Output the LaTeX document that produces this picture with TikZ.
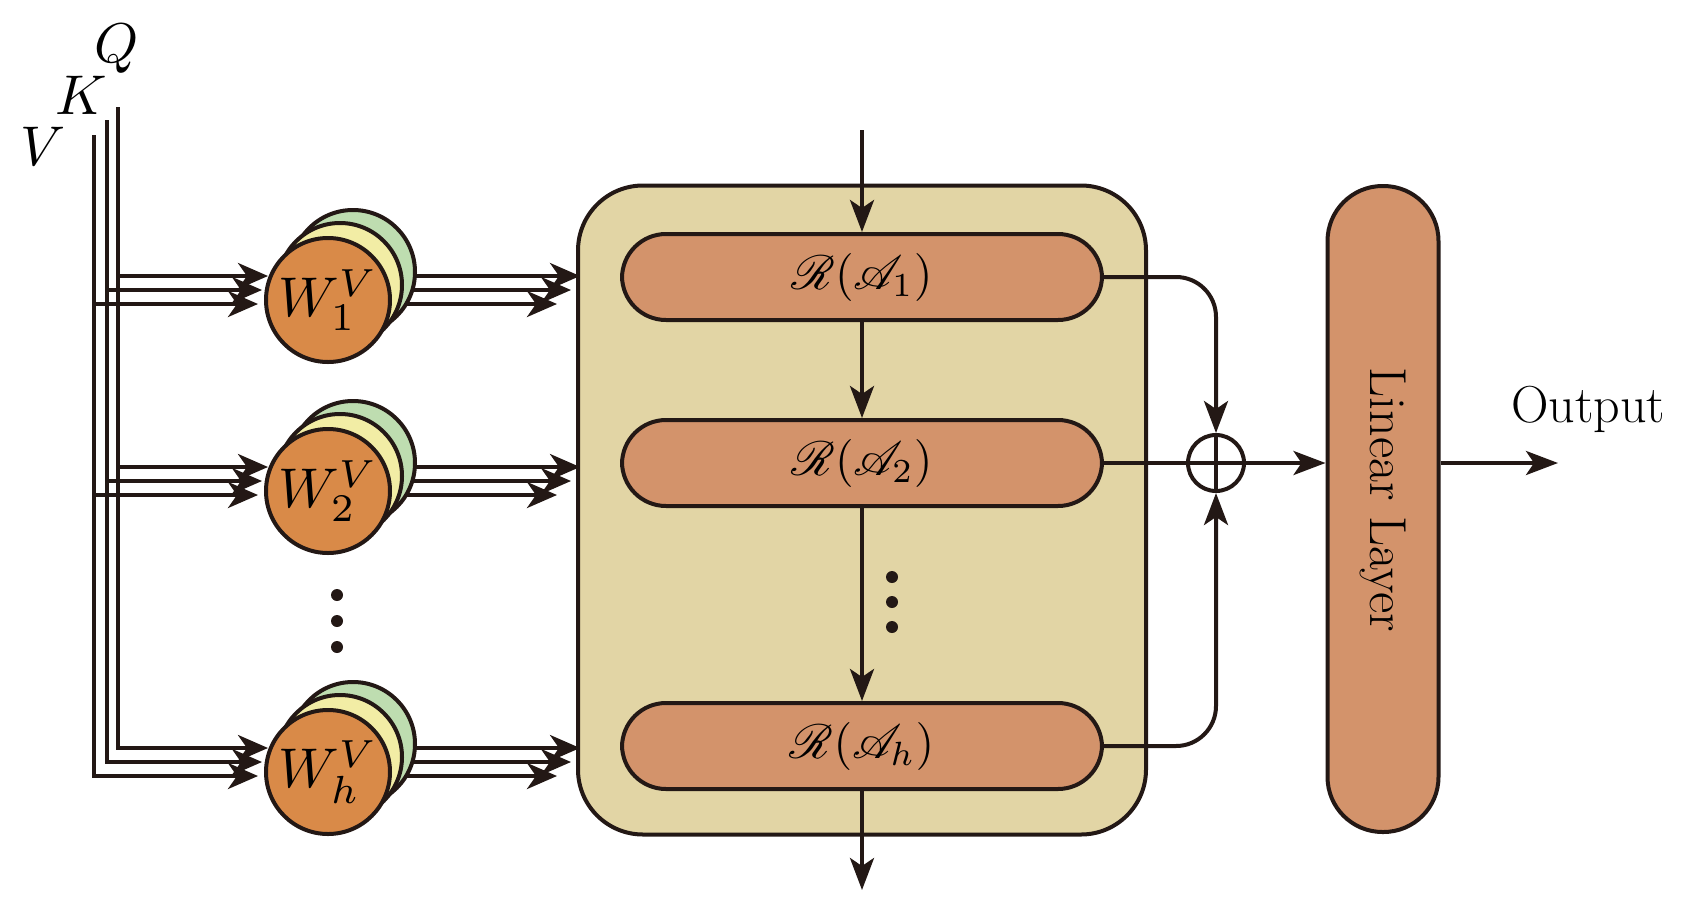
\documentclass[tikz,border=0pt]{standalone}
\usepackage{mathrsfs}
\usepackage{graphicx}
\usetikzlibrary{arrows.meta}
\definecolor{ln}{HTML}{231815}
\definecolor{corg}{HTML}{D98A48}
\definecolor{cyel}{HTML}{F2EDA5}
\definecolor{cgrn}{HTML}{BEDDB0}
\definecolor{cbox}{HTML}{E2D5A5}
\definecolor{cblk}{HTML}{D3936B}
\newcommand{\mybigmath}[2]{\scalebox{#1}{$#2$}}
\begin{document}
\begin{tikzpicture}[x=1pt,y=-1pt,line width=4pt,draw=ln,
  arr/.style={-{Stealth[length=30pt,width=26pt,inset=9pt]}},
  marr/.style={-{Stealth[length=32pt,width=24pt,inset=8pt]}},
  wc/.style={circle,draw=ln,line width=4pt,minimum size=124pt,inner sep=0pt},
  blk/.style={rectangle,draw=ln,fill=cblk,line width=4pt,rounded corners=44pt,minimum width=480pt,minimum height=86pt},
  dot/.style={circle,fill=ln,inner sep=0pt,minimum size=12pt}]
\useasboundingbox (0,0) rectangle (1686,908);
% input labels
\node (lv) at (43,146) {\mybigmath{5.6}{V}};
\node (lk) at (81,95) {\mybigmath{5.6}{K}};
\node (lq) at (117,49) {\mybigmath{5.6}{Q}};
\coordinate (tv) at (94,135);
\coordinate (tk) at (107,120);
\coordinate (tq) at (118,107);
% big box
\node[rectangle,draw=ln,fill=cbox,line width=4pt,rounded corners=65pt,minimum width=568pt,minimum height=649pt] (box) at (862,510) {};
% vertical input lines
\draw (tv) -- (94,776) -- (230,776);
\draw (tk) -- (107,762) -- (230,762);
\draw (tq) -- (118,748) -- (230,748);
\foreach \r/\c in {1/300,2/491,h/772}{
  \coordinate (q\r) at (118,\c-24);
  \coordinate (k\r) at (107,\c-10);
  \coordinate (v\r) at (94,\c+4);
  \coordinate (qe\r) at (268,\c-24);
  \coordinate (ke\r) at (262,\c-10);
  \coordinate (ve\r) at (258,\c+4);
  \draw[arr] (q\r) -- (qe\r);
  \draw[arr] (k\r) -- (ke\r);
  \draw[arr] (v\r) -- (ve\r);
  \coordinate (qs\r) at (380,\c-24);
  \coordinate (ks\r) at (380,\c-10);
  \coordinate (vs\r) at (380,\c+4);
  \coordinate (qt\r) at (580,\c-24);
  \coordinate (kt\r) at (571,\c-10);
  \coordinate (vt\r) at (557,\c+4);
  \draw[arr] (qs\r) -- (qt\r);
  \draw[arr] (ks\r) -- (kt\r);
  \draw[arr] (vs\r) -- (vt\r);
  \node[wc,fill=cgrn] (g\r) at (353,\c-28) {};
  \node[wc,fill=cyel] (y\r) at (340,\c-15) {};
  \node[wc,fill=corg] (o\r) at (328,\c) {\mybigmath{5.6}{W_{\r}^{V}}};
}
\node[dot] (d1) at (337,595) {};
\node[dot] (d2) at (337,621) {};
\node[dot] (d3) at (337,647) {};
% R blocks
\node[blk] (R1) at (862,277) {\mybigmath{4.8}{\mathscr{R}(\mathscr{A}_1)}};
\node[blk] (R2) at (862,463) {\mybigmath{4.8}{\mathscr{R}(\mathscr{A}_2)}};
\node[blk] (Rh) at (862,746) {\mybigmath{4.8}{\mathscr{R}(\mathscr{A}_h)}};
\coordinate (top) at (862,130);
\coordinate (bot) at (862,890);
\draw[marr] (top) -- (R1.north);
\draw[marr] (R1.south) -- (R2.north);
\draw[marr] (R2.south) -- (Rh.north);
\draw[marr] (Rh.south) -- (bot);
\node[dot] (e1) at (892,577) {};
\node[dot] (e2) at (892,602) {};
\node[dot] (e3) at (892,627) {};
% oplus
\node[circle,draw=ln,line width=4pt,minimum size=56pt,inner sep=0pt] (op) at (1216,463) {};
\draw (op.north) -- (op.south);
\draw (R2.east) -- (op.east);
\draw[marr,rounded corners=40pt] (R1.east) -| (op.north);
\draw[marr,rounded corners=40pt] (Rh.east) -| (op.south);
% linear layer
\node[rectangle,draw=ln,fill=cblk,line width=4pt,rounded corners=55pt,minimum width=111pt,minimum height=646pt] (lin) at (1383,509) {};
\node[rotate=-90,font=\fontsize{52}{56}\selectfont] (lintxt) at (1383,500) {Linear Layer};
\draw[marr] (op.east) -- (op.east -| lin.west);
\coordinate (out) at (1558,463);
\draw[marr] (lin.east |- out) -- (out);
\node[font=\fontsize{52}{56}\selectfont] (outtxt) at (1588,409) {Output};
\end{tikzpicture}
\end{document}
